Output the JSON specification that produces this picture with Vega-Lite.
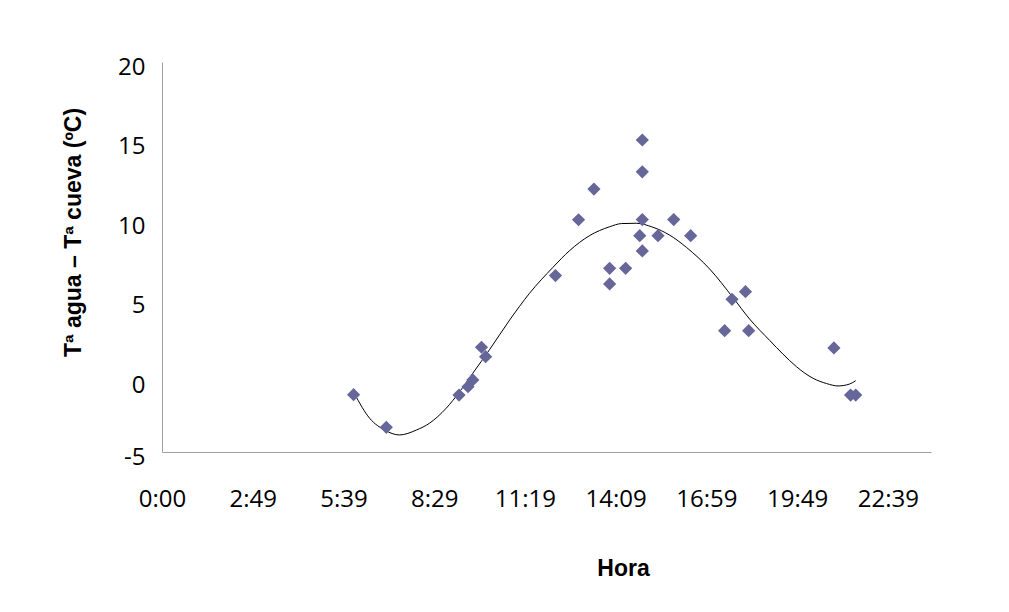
{
  "$schema": "https://vega.github.io/schema/vega-lite/v6.json",
  "width": 769,
  "height": 390,
  "autosize": {"type": "none"},
  "padding": {"left": 162, "top": 62, "right": 78, "bottom": 160},
  "background": "white",
  "config": {
    "view": {"stroke": null},
    "axis": {
      "grid": false,
      "ticks": false,
      "domainColor": "#a0a0a0",
      "domainWidth": 1,
      "labelFont": "Open Sans",
      "labelFontSize": 24,
      "labelColor": "#000000",
      "titleFont": "Liberation Sans",
      "titleFontSize": 23,
      "titleFontWeight": "bold",
      "titleColor": "#000000"
    }
  },
  "datasets": {
    "obs": [
      {"hora": 5.98, "dif": -0.9},
      {"hora": 7.0, "dif": -2.95},
      {"hora": 9.27, "dif": -0.92},
      {"hora": 9.55, "dif": -0.4},
      {"hora": 9.7, "dif": 0.03},
      {"hora": 9.97, "dif": 2.08},
      {"hora": 10.1, "dif": 1.49},
      {"hora": 12.28, "dif": 6.58},
      {"hora": 13.0, "dif": 10.09},
      {"hora": 13.48, "dif": 12.02},
      {"hora": 13.97, "dif": 7.04},
      {"hora": 13.97, "dif": 6.06},
      {"hora": 14.47, "dif": 7.04},
      {"hora": 14.91, "dif": 9.09},
      {"hora": 14.99, "dif": 15.1},
      {"hora": 14.99, "dif": 13.1},
      {"hora": 14.99, "dif": 10.1},
      {"hora": 14.99, "dif": 8.13},
      {"hora": 15.48, "dif": 9.09},
      {"hora": 15.97, "dif": 10.1},
      {"hora": 16.5, "dif": 9.09},
      {"hora": 17.56, "dif": 3.12},
      {"hora": 17.79, "dif": 5.09},
      {"hora": 18.21, "dif": 5.57},
      {"hora": 18.31, "dif": 3.12},
      {"hora": 20.97, "dif": 2.04},
      {"hora": 21.49, "dif": -0.92},
      {"hora": 21.65, "dif": -0.92}
    ],
    "ajuste": [
      {"hora": 6.01, "dif": -0.85},
      {"hora": 6.48, "dif": -2.38},
      {"hora": 6.95, "dif": -3.12},
      {"hora": 7.41, "dif": -3.43},
      {"hora": 7.94, "dif": -3.12},
      {"hora": 8.35, "dif": -2.69},
      {"hora": 8.87, "dif": -1.75},
      {"hora": 9.29, "dif": -0.71},
      {"hora": 9.7, "dif": 0.45},
      {"hora": 10.22, "dif": 1.92},
      {"hora": 10.85, "dif": 3.79},
      {"hora": 11.47, "dif": 5.47},
      {"hora": 12.2, "dif": 7.1},
      {"hora": 12.72, "dif": 8.15},
      {"hora": 13.35, "dif": 9.1},
      {"hora": 13.97, "dif": 9.65},
      {"hora": 14.34, "dif": 9.85},
      {"hora": 14.8, "dif": 9.87},
      {"hora": 15.32, "dif": 9.62},
      {"hora": 15.84, "dif": 9.13},
      {"hora": 16.37, "dif": 8.35},
      {"hora": 17.09, "dif": 7.0},
      {"hora": 17.82, "dif": 5.2},
      {"hora": 18.34, "dif": 3.85},
      {"hora": 18.97, "dif": 2.5},
      {"hora": 19.38, "dif": 1.65},
      {"hora": 19.8, "dif": 0.86},
      {"hora": 20.32, "dif": 0.13},
      {"hora": 20.74, "dif": -0.2},
      {"hora": 21.1, "dif": -0.35},
      {"hora": 21.46, "dif": -0.23},
      {"hora": 21.65, "dif": -0.02}
    ]
  },
  "encoding": {
    "x": {
      "field": "hora",
      "type": "quantitative",
      "scale": {"domain": [0, 24], "nice": false, "zero": false},
      "axis": {
        "title": "Hora",
        "values": [0, 2.832, 5.664, 8.496, 11.328, 14.16, 16.992, 19.824, 22.656],
        "labelExpr": "floor(datum.value) + ':' + pad(floor((datum.value - floor(datum.value)) * 60 + 0.000001), 2, '0', 'left')",
        "labelBaseline": "alphabetic",
        "labelPadding": 54,
        "labelFlush": false,
        "labelOverlap": false,
        "titleX": 461,
        "titleY": 123,
        "titleBaseline": "alphabetic",
        "titleAlign": "center"
      }
    },
    "y": {
      "field": "dif",
      "type": "quantitative",
      "scale": {"domain": [-4.5, 20], "nice": false, "zero": false},
      "axis": {
        "title": "Tª agua – Tª cueva (ºC)",
        "values": [-4.5, 0, 5, 10, 15, 20],
        "labelExpr": "datum.value == -4.5 ? '-5' : datum.label",
        "labelPadding": 17,
        "labelOffset": 5,
        "labelFlush": false,
        "labelOverlap": false,
        "titleX": -82,
        "titleY": 170,
        "titleAngle": -90,
        "titleBaseline": "alphabetic",
        "titleAlign": "center"
      }
    }
  },
  "layer": [
    {
      "data": {"name": "ajuste"},
      "mark": {"type": "line", "color": "#000000", "strokeWidth": 1, "interpolate": "monotone"}
    },
    {
      "data": {"name": "obs"},
      "mark": {"type": "point", "shape": "diamond", "filled": true, "size": 175, "color": "#666699", "opacity": 1, "strokeWidth": 0}
    }
  ]
}
